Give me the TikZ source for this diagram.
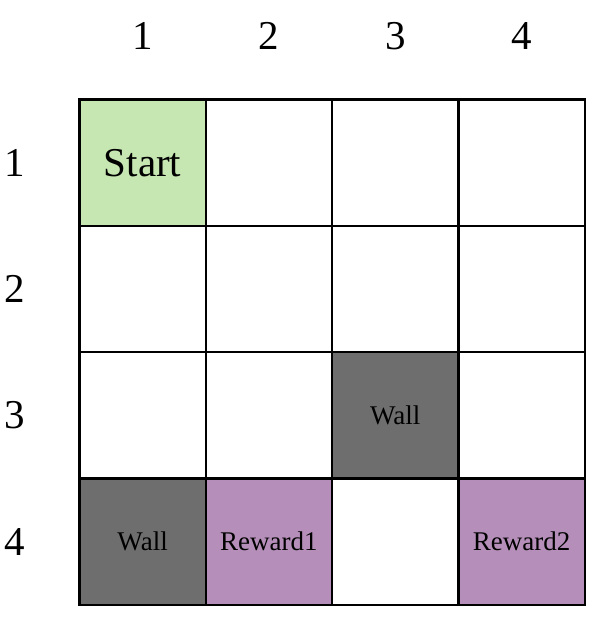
\documentclass[tikz,border=0pt]{standalone}
\usepackage{fontspec}
\setmainfont{Liberation Serif}
\usetikzlibrary{positioning}
\definecolor{startgreen}{HTML}{C6E6B2}
\definecolor{wallgray}{HTML}{6E6E6E}
\definecolor{rewardpurple}{HTML}{B58FB9}

\begin{document}
\begin{tikzpicture}[x=1pt, y=-1pt,
  cell/.style={draw, line width=2.4pt, minimum size=126.3pt, inner sep=0pt, outer sep=0pt, font=\fontsize{27}{30}\selectfont},
  start/.style={cell, fill=startgreen, font=\fontsize{41}{44}\selectfont},
  wall/.style={cell, fill=wallgray},
  reward/.style={cell, fill=rewardpurple},
  idx/.style={font=\fontsize{41}{44}\selectfont}]
\useasboundingbox (0,0) rectangle (592,618);
% grid cells: column/row/style/text
\foreach \c/\r/\s/\t in {1/1/start/Start, 2/1/cell/, 3/1/cell/, 4/1/cell/,
    1/2/cell/, 2/2/cell/, 3/2/cell/, 4/2/cell/,
    1/3/cell/, 2/3/cell/, 3/3/wall/Wall, 4/3/cell/,
    1/4/wall/Wall, 2/4/reward/Reward1, 3/4/cell/, 4/4/reward/Reward2}
  \node[\s] (c\c\r) at ({79.5+126.3*(\c-0.5)}, {99.5+126.3*(\r-0.5)}) {\t};
% column and row indices
\foreach \i in {1,...,4} {
  \node[idx] (col\i) at ({79.5+126.3*(\i-0.5)}, 36) {\i};
  \node[idx] (row\i) at (15, {99.5+126.3*(\i-0.5)}) {\i};
}
\end{tikzpicture}
\end{document}
